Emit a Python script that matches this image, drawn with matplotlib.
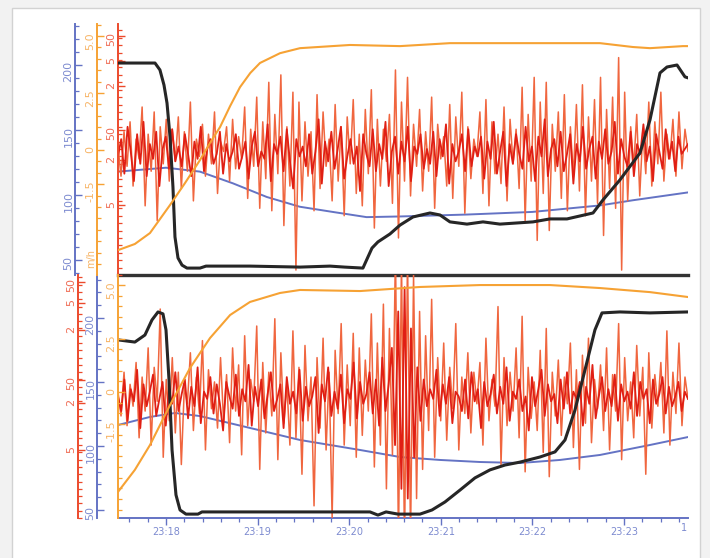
import numpy as np
import matplotlib
matplotlib.use("Agg")
import matplotlib.pyplot as plt
from matplotlib.ticker import FixedLocator, FixedFormatter, MultipleLocator, FuncFormatter
from matplotlib.patches import Rectangle
from matplotlib import transforms

# ── time axis (minutes past 23:00) ───────────────────────────────────────────
T_MIN, T_MAX = 17.476, 23.699
X_MAJOR = [18, 19, 20, 21, 22, 23]

# ── top panel data ───────────────────────────────────────────────────────────
top_orange_t = [17.476, 17.66, 17.825, 18.044, 18.207, 18.371, 18.48, 18.59, 18.70,
                18.808, 18.92, 19.026, 19.245, 19.463, 20.009, 20.555, 21.1, 21.646,
                22.192, 22.738, 23.098, 23.284, 23.644, 23.699]
top_orange_v = [-4.39, -4.12, -3.64, -2.41, -1.45, -0.44, 0.31, 1.01, 1.93,
                2.76, 3.38, 3.82, 4.25, 4.47, 4.61, 4.56, 4.69, 4.69,
                4.69, 4.69, 4.52, 4.47, 4.56, 4.56]

top_blue_t = [17.476, 18.0, 18.37, 18.73, 19.1, 19.46, 19.82, 20.19, 20.55, 21.29,
              22.0, 22.74, 23.1, 23.699]
top_blue_v = [118, 121, 118, 109, 98.5, 91, 87, 83, 83.5, 85, 87, 92, 96, 102]

top_black_t = [17.476, 17.88, 17.934, 17.978, 18.011, 18.044, 18.076, 18.098, 18.131,
               18.175, 18.229, 18.371, 18.437, 18.917, 19.463, 19.79, 19.95, 20.15,
               20.2, 20.249, 20.314, 20.445, 20.555, 20.697, 20.882, 20.991, 21.1,
               21.286, 21.461, 21.646, 22.007, 22.192, 22.378, 22.662, 22.771, 22.956,
               23.175, 23.284, 23.393, 23.47, 23.579, 23.666, 23.699]
top_black_v = [85.8, 85.8, 83.0, 76.9, 69.6, 55.9, 35.6, 15.4, 6.9,
               4.0, 2.8, 2.8, 3.6, 3.6, 3.2, 3.6, 3.2, 2.8,
               6.9, 10.9, 13.4, 16.6, 20.2, 23.5, 25.1, 24.3, 21.5,
               20.6, 21.5, 20.6, 21.5, 22.7, 22.7, 25.1, 30.4, 38.5,
               49.4, 62.8, 81.8, 84.2, 85.0, 80.2, 79.8]

# raw signal (light, large swings)
top_red_v = [
    52, 40, 58, 44, 62, 36, 55, 47, 68, 28, 57, 42, 66, 22, 60, 45, 63, 38, 59, 46,
    64, 35, 58, 42, 70, 30, 55, 48, 61, 40, 57, 45, 66, 33, 54, 50, 60, 38, 63, 43,
    56, 47, 68, 31, 59, 44, 72, 27, 62, 39, 78, 26, 65, 41, 81, 20, 60, 36, 74, 2,
    70, 30, 62, 40, 58, 26, 73, 35, 66, 44, 55, 30, 69, 38, 60, 24, 64, 45, 71, 33,
    57, 28, 67, 41, 75, 19, 63, 36, 59, 46, 65, 29, 83, 15, 70, 38, 80, 32, 61, 44,
    67, 34, 58, 42, 72, 27, 61, 47, 56, 36, 69, 31, 64, 44, 74, 25, 60, 39, 55, 48,
    66, 33, 71, 28, 62, 41, 57, 37, 68, 30, 63, 45, 59, 35, 76, 22, 65, 38, 80, 14,
    70, 33, 78, 18, 61,
    42, 66, 31, 73, 26, 60, 40, 69, 34, 77, 24, 64, 38, 71, 29, 80, 16, 67, 35, 72,
    27, 88, 2, 74, 30, 60, 44, 65, 32, 58, 41, 70, 36, 62, 45, 74, 38, 57, 47, 63,
    40, 66, 43, 59, 50]

# dense core (dark red, smaller swings)
top_core_v = [
    48, 55, 41, 60, 50, 38, 57, 45, 62, 40, 53, 47, 58, 36, 51, 56, 43, 59, 46, 52,
    44, 57, 49, 40, 54, 47, 60, 42, 51, 55, 45, 49, 58, 41, 53, 46, 50, 57, 43, 48,
    54, 39, 52, 58, 44, 50, 47, 61, 38, 53, 49, 56, 42, 59, 46, 35, 55, 48, 52, 44,
    57, 41, 50, 63, 37, 54, 46, 58, 43, 51, 60, 39, 48, 55, 45, 52, 34, 57, 49, 44,
    59, 42, 53, 47, 62, 36, 50, 56, 41, 54, 46, 60, 38, 52, 49, 57, 43, 51, 45, 58,
    40, 55, 48, 61, 37, 53, 46, 50, 57, 42, 59, 44, 52, 48, 56, 39, 54, 47, 62, 41,
    50, 58, 36, 53, 45, 57, 49, 43, 60, 46, 52, 38, 56, 48, 63, 40, 51, 55, 44, 58,
    42, 49, 57, 37, 53, 46, 60, 43, 51, 56, 39, 54, 47, 59, 45, 50, 62, 41, 55, 48,
    44, 58, 40, 53, 49, 61, 46, 52, 38, 57, 50, 43, 59, 47, 54, 42, 56, 49, 51, 53]

# ── bottom panel data ────────────────────────────────────────────────────────
bot_orange_t = [17.476, 17.66, 17.825, 18.044, 18.262, 18.48, 18.70, 18.917, 19.245,
                19.463, 20.118, 20.773, 21.428, 22.192, 22.738, 23.284, 23.699]
bot_orange_v = [-4.67, -3.64, -2.48, -0.61, 1.12, 2.52, 3.60, 4.21, 4.63,
                4.77, 4.72, 4.91, 5.0, 5.0, 4.86, 4.67, 4.44]

bot_blue_t = [17.476, 17.825, 18.098, 18.371, 18.917, 19.463, 20.118, 20.555, 20.991,
              21.428, 21.865, 22.301, 22.738, 23.284, 23.699]
bot_blue_v = [116.4, 122.7, 125.8, 123.4, 114.1, 104.7, 96.9, 91.4, 89.1,
              87.5, 86.7, 89.1, 93.0, 100.8, 107.0]

bot_black_t = [17.476, 17.66, 17.77, 17.847, 17.913, 17.967, 18.0, 18.033, 18.066,
               18.109, 18.153, 18.218, 18.349, 18.393, 19.463, 20.227, 20.314, 20.402,
               20.533, 20.773, 20.904, 21.046, 21.21, 21.373, 21.537, 21.701, 21.865,
               22.083, 22.247, 22.356, 22.465, 22.574, 22.683, 22.76, 22.956, 23.284,
               23.699]
bot_black_v = [73.3, 72.4, 75.3, 81.5, 84.8, 84.0, 77.4, 56.8, 28.0,
               9.5, 3.3, 1.6, 1.6, 2.5, 2.5, 2.5, 1.2, 2.5,
               1.6, 1.6, 3.3, 6.6, 11.5, 16.5, 19.8, 21.8, 23.0,
               25.1, 27.2, 32.1, 44.4, 60.9, 77.4, 84.4, 84.8, 84.4,
               84.8]

bot_red_v = [
    52, 42, 60, 38, 55, 46, 64, 33, 58, 44, 70, 30, 62, 48, 86, 25, 57, 40, 66, 35,
    60, 22, 54, 47, 68, 36, 58, 43, 73, 28, 61, 45, 56, 37, 66, 40, 59, 31, 70, 44,
    63, 26, 75, 38, 57, 48, 79, 20, 64, 35, 60, 42, 82, 24, 68, 39, 55, 30, 77, 33,
    62, 18, 71, 40, 58, 5, 66, 37, 74, 28, 60, 0, 69, 43, 80, 30, 63, 38, 76, 25,
    70, 34, 65, 44, 84, 21, 72, 30, 88, 12, 78, 26, 110, -10, 106, -12, 108, -8, 100, 8,
    85, 20, 75, 36, 90, 25, 66, 40, 72, 32, 62, 45, 80, 28, 58, 43, 68, 35, 60, 47,
    64, 30, 74, 40, 57, 46, 87, 22, 66, 38, 60, 44, 70, 33, 83, 19, 62, 41, 56, 36,
    69, 27, 78, 17, 60, 42, 65, 34, 58, 47, 72, 29, 61, 20, 67, 39, 74, 31, 57, 45,
    63, 36, 70, 28, 59, 44, 80, 24, 66, 40, 56, 33, 71, 42, 62, 18, 68, 37, 59, 46,
    64, 35, 77, 30, 60, 43, 72, 38, 58, 49]

bot_core_v = [
    50, 44, 57, 40, 53, 48, 61, 37, 55, 46, 52, 59, 42, 49, 56, 38, 53, 47, 60, 44,
    51, 57, 41, 54, 46, 62, 39, 52, 49, 58, 43, 55, 47, 36, 56, 50, 45, 59, 42, 53,
    48, 63, 38, 54, 46, 57, 41, 51, 60, 44, 49, 55, 37, 58, 47, 52, 43, 61, 40, 54,
    46, 50, 58, 35, 55, 48, 62, 42, 52, 45, 59, 39, 53, 49, 64, 41, 56, 47, 51, 60,
    43, 57, 38, 66, 44, 55, 70, 30, 85, 12, 95, 8, 78, 25, 62, 40, 57, 46, 53, 49,
    61, 42, 55, 47, 58, 39, 52, 50, 44, 57, 41, 60, 48, 53, 37, 56, 46, 51, 59, 43,
    54, 47, 62, 40, 52, 49, 57, 44, 50, 36, 58, 46, 53, 61, 42, 55, 48, 51, 39, 57,
    45, 60, 43, 52, 49, 56, 38, 54, 47, 63, 41, 50, 58, 44, 53, 46, 59, 40, 55, 48,
    52, 45, 60, 42, 56, 49, 53, 39, 57, 47, 51, 58, 43, 54, 46, 50, 56, 44, 52, 49]

# ── axis tick labels ─────────────────────────────────────────────────────────
blue_ticks = [50, 100, 150, 200]
blue_labels = ["50", "100", "150", "200"]
orange_ticks = [5.0, 2.5, 0, -1.5]
orange_labels = ["5.0", "2.5", "0", "-1.5"]
red_ticks_top = [96.8, 86.6, 76.5, 58.7, 46.6, 28.3]
red_ticks_bot = [97.1, 88.5, 77.4, 56.8, 47.3, 28.0]
red_labels = ["50", "5", "2", "50", "2", "5"]

# ── colours ──────────────────────────────────────────────────────────────────
BLUE, BLUE_L = "#6473c4", "#7d8bd0"
ORANGE, ORANGE_L = "#f6a234", "#f7b466"
RED, RED_L = "#e01f14", "#ef6a52"
SALMON = "#f0663f"
BLACK = "#262626"

W, H = 710, 558
fig = plt.figure(figsize=(W / 100, H / 100), dpi=100)
fig.patch.set_facecolor("#f2f2f2")
fig.add_artist(Rectangle((12 / W, -0.01), (700 - 12) / W, 1.01 - 8 / H,
                         transform=fig.transFigure, facecolor="white",
                         edgecolor="#d2d2d2", lw=1.0, zorder=-10))


def make_host(rect):
    host = fig.add_axes(rect)
    host.patch.set_visible(False)
    host.set_xlim(T_MIN, T_MAX)
    host.yaxis.set_visible(False)
    for s in ("top", "right", "left"):
        host.spines[s].set_visible(False)
    return host


def add_yaxis(host, offset, color, lcolor, ylim, major, labels, minor, z):
    ax = host.twinx()
    ax.set_zorder(z)
    ax.patch.set_visible(False)
    ax.set_ylim(*ylim)
    ax.yaxis.set_ticks_position("left")
    ax.spines["left"].set_visible(True)
    ax.spines["left"].set_position(("axes", offset))
    ax.spines["left"].set_color(color)
    ax.spines["left"].set_linewidth(1.4)
    for s in ("right", "top", "bottom"):
        ax.spines[s].set_visible(False)
    ax.yaxis.set_major_locator(FixedLocator(major))
    ax.yaxis.set_major_formatter(FixedFormatter(labels))
    ax.yaxis.set_minor_locator(MultipleLocator(minor))
    ax.tick_params(axis="y", which="both", direction="in", colors=color,
                   labelcolor=lcolor, labelsize=8, pad=1, labelrotation=90)
    ax.tick_params(axis="y", which="major", length=5, width=1.0)
    ax.tick_params(axis="y", which="minor", length=3, width=0.9)
    return ax


def draw_red(ax, raw, core):
    ax.plot(np.linspace(T_MIN, T_MAX, len(raw)), raw, color=SALMON, lw=1.1)
    ax.plot(np.linspace(T_MIN, T_MAX, len(core)), core, color=RED, lw=1.3)


# ── top panel ────────────────────────────────────────────────────────────────
left, width = 118 / W, 570 / W
top_host = make_host([left, 1 - 275 / H, width, 251 / H])
top_host.set_xticks([])
top_host.spines["bottom"].set_color("#333333")
top_host.spines["bottom"].set_linewidth(2.4)

t_blue = add_yaxis(top_host, -43 / 570, BLUE, BLUE_L, (38.5, 231.5),
                   blue_ticks, blue_labels, 10, 1)
t_red = add_yaxis(top_host, 0.0, "#ec4a2c", RED_L, (0, 101.6),
                  red_ticks_top, red_labels, 3, 2)
t_orange = add_yaxis(top_host, -21 / 570, ORANGE, ORANGE_L, (-5.48, 5.53),
                     orange_ticks, orange_labels, 0.5, 3)

t_blue.plot(top_blue_t, top_blue_v, color=BLUE, lw=1.4)
draw_red(t_red, top_red_v, top_core_v)
t_red.plot(top_black_t, top_black_v, color=BLACK, lw=2.2, zorder=5)
t_orange.plot(top_orange_t, top_orange_v, color=ORANGE, lw=1.5)

# ── bottom panel ─────────────────────────────────────────────────────────────
bot_host = make_host([left, 1 - 518 / H, width, 243 / H])
bot_host.spines["bottom"].set_color(BLUE)
bot_host.spines["bottom"].set_linewidth(1.4)
bot_host.xaxis.set_major_locator(FixedLocator(X_MAJOR))
bot_host.xaxis.set_major_formatter(FuncFormatter(lambda v, p: f"23:{int(round(v)):02d}"))
bot_host.xaxis.set_minor_locator(MultipleLocator(0.2))
bot_host.tick_params(axis="x", which="both", direction="out", colors=BLUE,
                     labelcolor=BLUE_L, labelsize=7, pad=1.5)
bot_host.tick_params(axis="x", which="major", length=5, width=1.0)
bot_host.tick_params(axis="x", which="minor", length=3, width=0.9)
trans = transforms.blended_transform_factory(bot_host.transData, bot_host.transAxes)
bot_host.text(23.655, -0.04, "1", transform=trans, color=BLUE_L, fontsize=7,
              ha="center", va="center")

b_red = add_yaxis(bot_host, -40 / 570, "#ec4a2c", RED_L, (0, 100),
                  red_ticks_bot, red_labels, 3, 2)
b_blue = add_yaxis(bot_host, -21 / 570, BLUE, BLUE_L, (43.75, 233.6),
                   blue_ticks, blue_labels, 10, 1)
b_orange = add_yaxis(bot_host, 0.0, ORANGE, ORANGE_L, (-5.89, 5.47),
                     orange_ticks, orange_labels, 0.5, 3)

b_blue.plot(bot_blue_t, bot_blue_v, color=BLUE, lw=1.4)
draw_red(b_red, bot_red_v, bot_core_v)
b_red.plot(bot_black_t, bot_black_v, color=BLACK, lw=2.2, zorder=5)
b_orange.plot(bot_orange_t, bot_orange_v, color=ORANGE, lw=1.5)

fig.text(91 / W, 1 - 258 / H, "m/h", rotation=90, color=ORANGE_L, fontsize=7,
         ha="center", va="center")

fig.savefig("out.png", dpi=100)
